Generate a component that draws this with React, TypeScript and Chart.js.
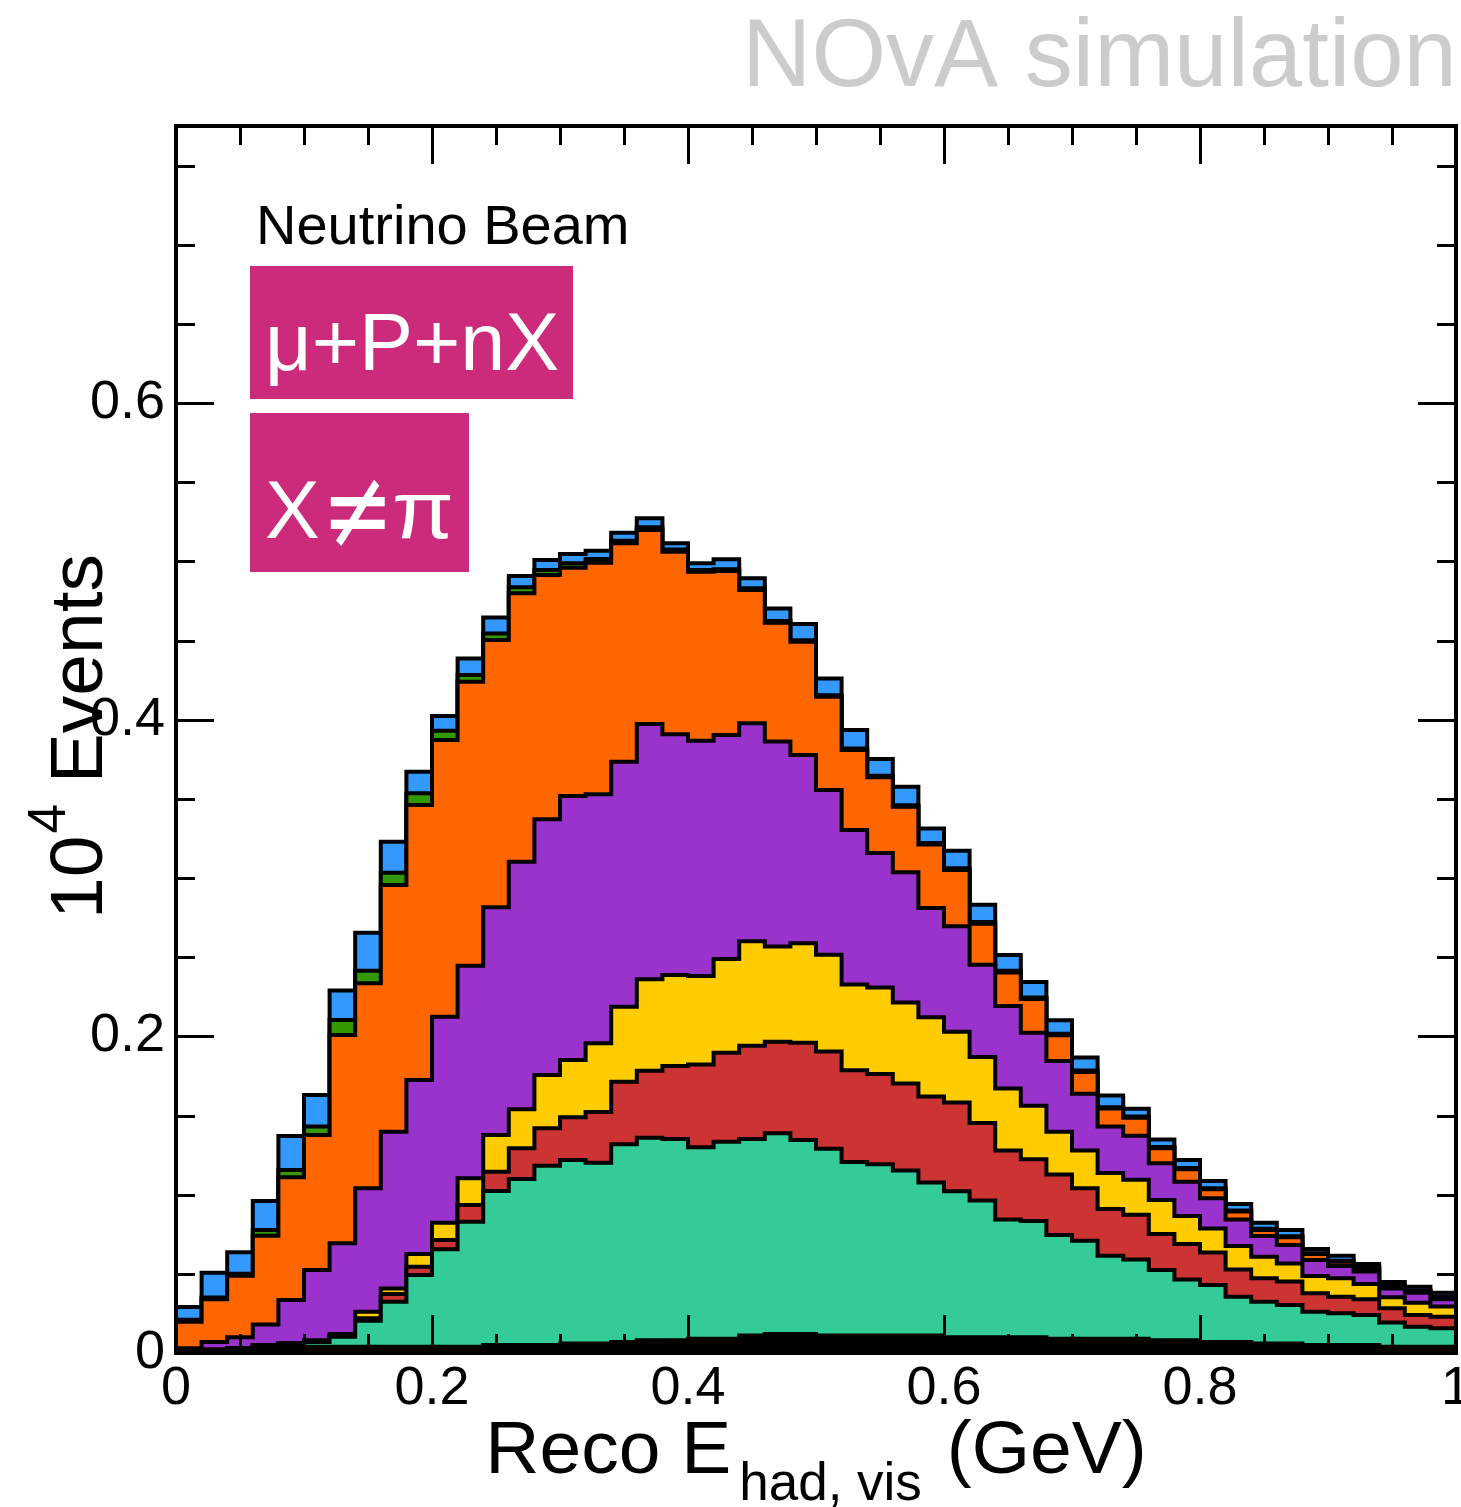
import React, { useEffect, useRef } from "react";
import { Chart, registerables } from "chart.js";

Chart.register(...registerables);

// ---------- axis definition ----------
const X_MIN = 0;
const X_MAX = 1;
const N_BINS = 50;
const Y_MIN = 0;
const Y_MAX = 0.775;
const X_MAJOR_STEP = 0.2;
const X_MINOR_STEP = 0.05;
const Y_MAJOR_STEP = 0.2;
const Y_MINOR_STEP = 0.05;

const BIN_EDGES = Array.from({ length: N_BINS + 1 }, (_, i) => X_MIN + (i * (X_MAX - X_MIN)) / N_BINS);

// ---------- cumulative stack tops (10^4 events), one value per 0.02 GeV bin ----------
const stackBlack = [
  0.002, 0.002, 0.003, 0.005, 0.006, 0.004, 0.004, 0.004, 0.004, 0.004,
  0.004, 0.004, 0.005, 0.005, 0.005, 0.006, 0.006, 0.007, 0.008, 0.008,
  0.009, 0.009, 0.011, 0.012, 0.012, 0.011, 0.011, 0.011, 0.011, 0.011,
  0.010, 0.010, 0.010, 0.010, 0.009, 0.009, 0.009, 0.009, 0.008, 0.008,
  0.007, 0.007, 0.006, 0.006, 0.005, 0.005, 0.005, 0.004, 0.004, 0.004,
];
const stackTeal = [
  0.002, 0.002, 0.003, 0.005, 0.006, 0.007, 0.0103, 0.0204, 0.0324, 0.0493,
  0.0655, 0.0829, 0.1023, 0.1099, 0.1183, 0.1219, 0.1202, 0.1318, 0.136, 0.1352,
  0.1299, 0.1335, 0.1352, 0.1388, 0.1345, 0.129, 0.1207, 0.1192, 0.1153, 0.1077,
  0.1022, 0.0963, 0.0844, 0.0833, 0.0746, 0.0709, 0.0615, 0.059, 0.0524, 0.0465,
  0.0429, 0.0356, 0.0324, 0.0303, 0.0261, 0.0251, 0.024, 0.0192, 0.0166, 0.0156,
];
const stackRed = [
  0.002, 0.002, 0.003, 0.005, 0.006, 0.007, 0.011, 0.022, 0.0373, 0.0545,
  0.0714, 0.0935, 0.1145, 0.1293, 0.1419, 0.1489, 0.1522, 0.1714, 0.1783, 0.1813,
  0.1823, 0.1897, 0.1941, 0.1966, 0.196, 0.1905, 0.1786, 0.1762, 0.1703, 0.162,
  0.1583, 0.1453, 0.1279, 0.1224, 0.1127, 0.104, 0.0909, 0.0874, 0.0752, 0.0688,
  0.0634, 0.0528, 0.0472, 0.0451, 0.0377, 0.0356, 0.0339, 0.0282, 0.024, 0.0229,
];
const stackYellow = [
  0.002, 0.002, 0.003, 0.005, 0.006, 0.008, 0.012, 0.026, 0.0408, 0.0625,
  0.0823, 0.1103, 0.1377, 0.1539, 0.1756, 0.1851, 0.1956, 0.2187, 0.236, 0.2387,
  0.2381, 0.2488, 0.26, 0.2568, 0.2588, 0.2516, 0.2327, 0.2308, 0.2214, 0.2121,
  0.2029, 0.187, 0.167, 0.1562, 0.1398, 0.1279, 0.1137, 0.1094, 0.0966, 0.0865,
  0.0787, 0.0676, 0.0608, 0.0566, 0.0486, 0.0472, 0.0436, 0.0352, 0.0318, 0.0293,
];
const stackPurple = [
  0.003, 0.007, 0.0099, 0.018, 0.0335, 0.0524, 0.0693, 0.104, 0.1398, 0.1724,
  0.2124, 0.2446, 0.2815, 0.3103, 0.3371, 0.3518, 0.3529, 0.3735, 0.3973, 0.3908,
  0.3867, 0.3903, 0.3977, 0.3862, 0.3777, 0.3556, 0.3303, 0.3158, 0.3036, 0.281,
  0.2695, 0.2452, 0.2192, 0.2023, 0.1844, 0.1638, 0.1431, 0.1372, 0.1198, 0.1082,
  0.0977, 0.0844, 0.0739, 0.0682, 0.0587, 0.055, 0.0514, 0.0408, 0.0381, 0.0339,
];
const stackOrange = [
  0.0198, 0.034, 0.0488, 0.074, 0.111, 0.1377, 0.2008, 0.2335, 0.2956, 0.3461,
  0.3872, 0.424, 0.4503, 0.4798, 0.4914, 0.496, 0.4992, 0.5114, 0.5198, 0.5061,
  0.4935, 0.4939, 0.4819, 0.4613, 0.4492, 0.4145, 0.3808, 0.3636, 0.345, 0.3212,
  0.3051, 0.2712, 0.2404, 0.2236, 0.2007, 0.1775, 0.1544, 0.1486, 0.1293, 0.116,
  0.1034, 0.0893, 0.0777, 0.0731, 0.0625, 0.0577, 0.0535, 0.042, 0.039, 0.035,
];
const stackGreen = [
  0.021, 0.035, 0.05, 0.0777, 0.1156, 0.143, 0.2103, 0.2415, 0.3034, 0.3535,
  0.3931, 0.4282, 0.4545, 0.4836, 0.4945, 0.4988, 0.5015, 0.5131, 0.5215, 0.5075,
  0.4945, 0.495, 0.483, 0.4623, 0.4502, 0.4155, 0.3818, 0.3646, 0.346, 0.3222,
  0.3061, 0.2722, 0.2414, 0.2246, 0.2017, 0.1785, 0.1552, 0.1494, 0.1301, 0.1168,
  0.104, 0.09, 0.0785, 0.0738, 0.063, 0.0582, 0.054, 0.0425, 0.0395, 0.0355,
];
const stackBlue = [
  0.029, 0.0507, 0.0636, 0.096, 0.137, 0.163, 0.229, 0.2655, 0.3229, 0.3671,
  0.4023, 0.4387, 0.4646, 0.4907, 0.5009, 0.5046, 0.5067, 0.5181, 0.5272, 0.5114,
  0.4988, 0.5013, 0.4893, 0.4703, 0.4604, 0.4261, 0.3935, 0.3752, 0.3577, 0.3313,
  0.3173, 0.2832, 0.2514, 0.2344, 0.2101, 0.1866, 0.1627, 0.1542, 0.1349, 0.1219,
  0.1086, 0.0941, 0.0823, 0.0777, 0.0657, 0.0615, 0.0562, 0.0448, 0.0419, 0.0381,
];

// bottom first; Chart.js paints index 0 last, so the smallest stack ends up on top
const LAYERS = [
  { name: "other", values: stackBlack, color: "#000000" },
  { name: "teal", values: stackTeal, color: "#33CC99" },
  { name: "red", values: stackRed, color: "#CC3333" },
  { name: "yellow", values: stackYellow, color: "#FFCC00" },
  { name: "purple", values: stackPurple, color: "#9933CC" },
  { name: "orange", values: stackOrange, color: "#FF6600" },
  { name: "green", values: stackGreen, color: "#339900" },
  { name: "blue", values: stackBlue, color: "#3399FF" },
];

const TITLE_TEXT = "NOvA simulation";
const BEAM_TEXT = "Neutrino Beam";
const TAG1_TEXT = "μ+P+nX";
const X_TITLE_MAIN = "Reco E";
const X_TITLE_SUB = "had, vis";
const X_TITLE_UNIT = "(GeV)";
const Y_TITLE_BASE = "10";
const Y_TITLE_EXP = "4";
const Y_TITLE_REST = "Events";

const SANS = '"Liberation Sans", Arial, Helvetica, sans-serif';
const MAGENTA = "#CC2A7A";

const W = 1461;
const H = 1507;

function fmt(v: number | string) {
  const n = Number(v);
  return String(parseFloat(n.toFixed(3)));
}

function text(
  ctx: CanvasRenderingContext2D,
  s: string,
  x: number,
  y: number,
  size: number,
  color: string,
  align: CanvasTextAlign = "left",
  family: string = SANS
) {
  ctx.font = `${size}px ${family}`;
  ctx.fillStyle = color;
  ctx.textAlign = align;
  ctx.textBaseline = "alphabetic";
  ctx.fillText(s, x, y);
  return ctx.measureText(s).width;
}

function measure(ctx: CanvasRenderingContext2D, s: string, size: number, family: string = SANS) {
  ctx.font = `${size}px ${family}`;
  return ctx.measureText(s).width;
}

const decorPlugin = {
  id: "rootDecor",
  afterDraw(chart: any) {
    const ctx: CanvasRenderingContext2D = chart.ctx;
    const { left, right, top, bottom } = chart.chartArea;
    const xs = chart.scales.x;
    const ys = chart.scales.y;
    ctx.save();

    // tick marks on all four sides (ROOT style, inside the frame)
    ctx.strokeStyle = "#000";
    ctx.lineWidth = 3;
    ctx.beginPath();
    const nx = Math.round((X_MAX - X_MIN) / X_MINOR_STEP);
    for (let k = 0; k <= nx; k++) {
      const v = X_MIN + k * X_MINOR_STEP;
      const r = v / X_MAJOR_STEP;
      const major = Math.abs(r - Math.round(r)) < 1e-6;
      const len = major ? 38 : 19;
      const px = Math.round(xs.getPixelForValue(v)) + 0.5;
      ctx.moveTo(px, bottom);
      ctx.lineTo(px, bottom - len);
      ctx.moveTo(px, top);
      ctx.lineTo(px, top + len);
    }
    const ny = Math.floor((Y_MAX - Y_MIN) / Y_MINOR_STEP + 1e-6);
    for (let k = 0; k <= ny; k++) {
      const v = Y_MIN + k * Y_MINOR_STEP;
      const r = v / Y_MAJOR_STEP;
      const major = Math.abs(r - Math.round(r)) < 1e-6;
      const len = major ? 38 : 19;
      const py = Math.round(ys.getPixelForValue(v)) + 0.5;
      ctx.moveTo(left, py);
      ctx.lineTo(left + len, py);
      ctx.moveTo(right, py);
      ctx.lineTo(right - len, py);
    }
    ctx.stroke();

    // frame
    ctx.lineWidth = 4;
    ctx.strokeRect(left, top, right - left, bottom - top);

    // header
    text(ctx, TITLE_TEXT, 1457, 86, 96, "#CCCCCC", "right");

    // labels inside the plot
    text(ctx, BEAM_TEXT, 256, 244, 56, "#000000");

    ctx.fillStyle = MAGENTA;
    ctx.fillRect(250, 266, 323, 133);
    ctx.fillRect(250, 413, 219, 159);
    text(ctx, TAG1_TEXT, 265, 370, 81, "#FFFFFF");

    // X ≠ π
    const wX = text(ctx, "X", 265, 538, 82, "#FFFFFF");
    const neqFamily = '"DejaVu Sans", sans-serif';
    const neqSize = 112;
    const wNeq = measure(ctx, "≠", neqSize, neqFamily);
    ctx.save();
    ctx.translate(265 + wX + 2, 548);
    ctx.scale(72 / Math.max(wNeq, 1), 1);
    text(ctx, "≠", 0, 0, neqSize, "#FFFFFF", "left", neqFamily);
    ctx.restore();
    const wPi = measure(ctx, "π", 82);
    ctx.save();
    ctx.translate(392, 538);
    ctx.scale(62 / Math.max(wPi, 1), 1);
    text(ctx, "π", 0, 0, 82, "#FFFFFF");
    ctx.restore();

    // x-axis title (centered under the plot)
    const mainSize = 75;
    const subSize = 53;
    const w1 = measure(ctx, X_TITLE_MAIN, mainSize);
    const w2 = measure(ctx, X_TITLE_SUB, subSize);
    const w3 = measure(ctx, " " + X_TITLE_UNIT, mainSize);
    const gap1 = 8;
    const gap2 = 4;
    const total = w1 + gap1 + w2 + gap2 + w3;
    let x0 = (left + right) / 2 - total / 2;
    text(ctx, X_TITLE_MAIN, x0, 1473, mainSize, "#000");
    x0 += w1 + gap1;
    text(ctx, X_TITLE_SUB, x0, 1500, subSize, "#000");
    x0 += w2 + gap2;
    text(ctx, " " + X_TITLE_UNIT, x0, 1473, mainSize, "#000");

    // y-axis title (rotated)
    const ySize = 75;
    const yb = measure(ctx, Y_TITLE_BASE, ySize);
    const ye = measure(ctx, Y_TITLE_EXP, subSize);
    const yr = measure(ctx, " " + Y_TITLE_REST, ySize);
    const ytotal = yb + 2 + ye + yr;
    ctx.save();
    ctx.translate(102, (top + bottom) / 2 - 3);
    ctx.rotate(-Math.PI / 2);
    let t0 = -ytotal / 2;
    text(ctx, Y_TITLE_BASE, t0, 0, ySize, "#000");
    t0 += yb + 2;
    text(ctx, Y_TITLE_EXP, t0, -37, subSize, "#000");
    t0 += ye;
    text(ctx, " " + Y_TITLE_REST, t0, 0, ySize, "#000");
    ctx.restore();

    ctx.restore();
  },
};

export default function App() {
  const ref = useRef<HTMLCanvasElement | null>(null);

  useEffect(() => {
    document.body.style.margin = "0";
    const canvas = ref.current;
    if (!canvas) return;

    const datasets = LAYERS.map((layer) => ({
      label: layer.name,
      data: BIN_EDGES.map((e, i) => ({ x: e, y: layer.values[Math.min(i, N_BINS - 1)] })),
      stepped: true as const,
      fill: "origin" as const,
      backgroundColor: layer.color,
      borderColor: "#000000",
      borderWidth: 4,
      pointRadius: 0,
      pointHoverRadius: 0,
      tension: 0,
    }));

    const tickFont = { family: SANS, size: 54, lineHeight: 1 };

    const chart = new Chart(canvas, {
      type: "line",
      data: { datasets },
      options: {
        animation: false,
        responsive: false,
        devicePixelRatio: 1,
        events: [],
        layout: { padding: { top: 126, right: 5, bottom: 0, left: 0 } },
        plugins: {
          legend: { display: false },
          tooltip: { enabled: false },
          title: { display: false },
        },
        scales: {
          x: {
            type: "linear",
            min: X_MIN,
            max: X_MAX,
            grid: { display: false, drawTicks: false },
            border: { display: false },
            ticks: {
              stepSize: X_MAJOR_STEP,
              includeBounds: false,
              autoSkip: false,
              maxRotation: 0,
              minRotation: 0,
              padding: 9,
              color: "#000",
              font: tickFont,
              callback: (v: any) => fmt(v),
            },
            afterFit: (s: any) => {
              s.height = H - 1353;
              s.paddingLeft = 0;
              s.paddingRight = 0;
            },
          },
          y: {
            type: "linear",
            min: Y_MIN,
            max: Y_MAX,
            grid: { display: false, drawTicks: false },
            border: { display: false },
            ticks: {
              stepSize: Y_MAJOR_STEP,
              includeBounds: false,
              autoSkip: false,
              padding: 11,
              color: "#000",
              font: tickFont,
              callback: (v: any) => fmt(v),
            },
            afterFit: (s: any) => {
              s.width = 176;
              s.paddingTop = 0;
              s.paddingBottom = 0;
            },
          },
        },
      },
      plugins: [decorPlugin],
    });

    return () => chart.destroy();
  }, []);

  return (
    <div style={{ position: "absolute", left: 0, top: 0, width: W, height: H, overflow: "hidden", background: "#fff" }}>
      <canvas ref={ref} width={W} height={H} style={{ display: "block", width: W, height: H }} />
    </div>
  );
}
